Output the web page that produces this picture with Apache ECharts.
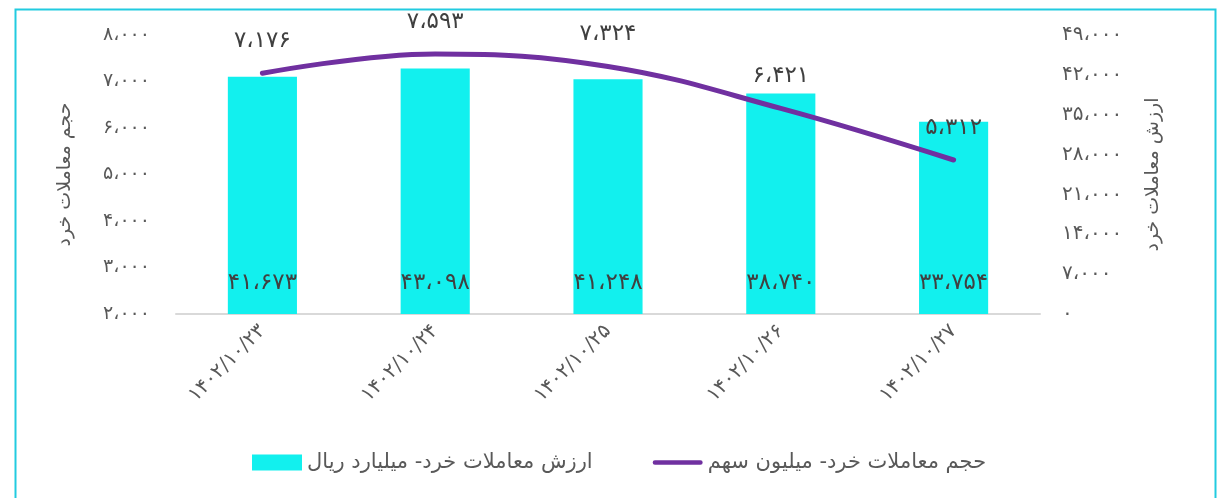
<!DOCTYPE html>
<html>
<head>
<meta charset="utf-8">
<script src="https://cdn.jsdelivr.net/npm/echarts@6/dist/echarts.min.js"></script>
<style>
  html, body { margin: 0; padding: 0; background: #fff; }
  #chart { width: 1221px; height: 498px; }
</style>
</head>
<body>
<div id="chart"></div>
<script>
// dates (Jalali)
const dates = ['۱۴۰۲/۱۰/۲۳', '۱۴۰۲/۱۰/۲۴', '۱۴۰۲/۱۰/۲۵', '۱۴۰۲/۱۰/۲۶', '۱۴۰۲/۱۰/۲۷']
// ارزش معاملات خرد - میلیارد ریال (bars, right axis)
const valueData = [41673, 43098, 41248, 38740, 33754]
// حجم معاملات خرد - میلیون سهم (line, left axis)
const volumeData = [7176, 7593, 7324, 6421, 5312]

const barName = 'ارزش معاملات خرد- میلیارد ریال'
const lineName = 'حجم معاملات خرد- میلیون سهم'
const FONT = 'DejaVu Sans'

// 7176 -> ۷،۱۷۶
const faDigits = '۰۱۲۳۴۵۶۷۸۹'
function fa(n) {
  const s = String(Math.round(n)).replace(/\B(?=(\d{3})+(?!\d))/g, '،')
  return s.replace(/\d/g, d => faDigits[d])
}

const chart = echarts.init(document.getElementById('chart'))

const option = {
  backgroundColor: '#fff',
  textStyle: { fontFamily: FONT },
  grid: { left: 176, right: 181, top: 35, bottom: 184 },
  legend: {
    top: 447,
    left: 247,
    itemWidth: 50,
    itemHeight: 16,
    itemGap: 60,
    textStyle: { fontFamily: FONT, fontSize: 21, color: '#595959' },
    data: [
      { name: barName, icon: 'rect' },
      { name: lineName, icon: 'path://M2.5,0 L52.5,0 A2.5,2.5 0 0 1 52.5,5 L2.5,5 A2.5,2.5 0 0 1 2.5,0 Z' }
    ]
  },
  xAxis: {
    type: 'category',
    data: dates,
    axisLine: { lineStyle: { color: '#d9d9d9', width: 2 } },
    axisTick: { show: false },
    axisLabel: {
      rotate: 45,
      margin: 14,
      fontFamily: FONT,
      fontSize: 20,
      color: '#595959'
    }
  },
  yAxis: [
    {
      type: 'value',
      min: 2000,
      max: 8000,
      interval: 1000,
      name: 'حجم معاملات خرد',
      nameLocation: 'middle',
      nameRotate: 90,
      nameGap: 101,
      nameTextStyle: { fontFamily: FONT, fontSize: 19, color: '#595959' },
      axisLine: { show: false },
      axisTick: { show: false },
      splitLine: { show: false },
      axisLabel: {
        margin: 26,
        fontFamily: FONT,
        fontSize: 19,
        color: '#595959',
        formatter: v => fa(v)
      }
    },
    {
      type: 'value',
      min: 0,
      max: 49000,
      interval: 7000,
      name: 'ارزش معاملات خرد',
      nameLocation: 'middle',
      nameRotate: 90,
      nameGap: 104,
      nameTextStyle: { fontFamily: FONT, fontSize: 19, color: '#595959' },
      axisLine: { show: false },
      axisTick: { show: false },
      splitLine: { show: false },
      axisLabel: {
        margin: 22,
        fontFamily: FONT,
        fontSize: 20,
        color: '#595959',
        formatter: v => fa(v)
      }
    }
  ],
  series: [
    {
      name: barName,
      type: 'bar',
      yAxisIndex: 1,
      data: valueData,
      barWidth: '40%',
      itemStyle: { color: '#12F0EE' },
      label: {
        show: true,
        position: 'insideBottom',
        distance: 19,
        fontFamily: FONT,
        fontSize: 23,
        color: '#404040',
        formatter: p => fa(p.value)
      }
    },
    {
      name: lineName,
      type: 'line',
      yAxisIndex: 0,
      data: volumeData,
      smooth: 0.4,
      symbol: 'circle',
      symbolSize: 1,
      showSymbol: true,
      lineStyle: { color: '#7030A0', width: 5, cap: 'round' },
      itemStyle: { color: '#7030A0' },
      label: {
        show: true,
        position: 'top',
        distance: 20,
        fontFamily: FONT,
        fontSize: 23,
        color: '#404040',
        formatter: p => fa(p.value)
      },
      z: 3
    }
  ],
  graphic: [
    {
      type: 'rect',
      left: 13,
      top: 7,
      shape: { width: 1200, height: 520 },
      style: { fill: 'none', stroke: '#22CBE0', lineWidth: 2 },
      silent: true
    }
  ]
}

chart.setOption(option)
</script>
</body>
</html>
